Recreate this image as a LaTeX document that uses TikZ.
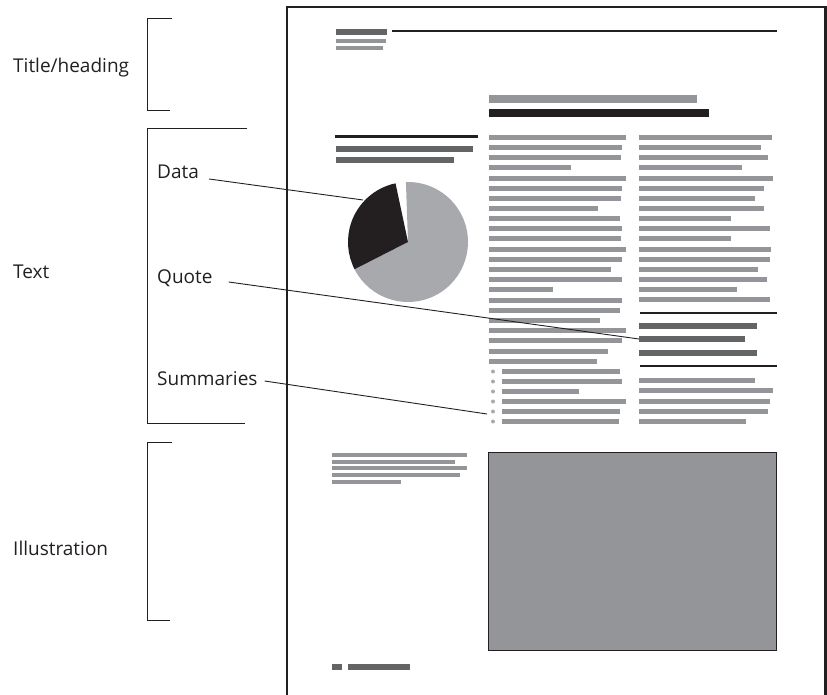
\documentclass[tikz,border=0pt]{standalone}
\usepackage{fontspec}
\setmainfont{Open Sans}
\usetikzlibrary{positioning,calc}
\definecolor{ink}{HTML}{231F20}
\definecolor{coolgray}{HTML}{939598}
\definecolor{slate}{HTML}{636466}
\definecolor{pielight}{HTML}{A7A9AC}

\begin{document}
\begin{tikzpicture}[
  x=1pt, y=-1pt,
  every node/.style={font=\fontsize{19}{22}\selectfont, text=ink, inner sep=0pt},
  side/.style={anchor=base west},
  bracket/.style={draw=ink, line width=1pt},
  leader/.style={draw=ink, line width=0.9pt},
  rule/.style={draw=ink, line width=1.2pt},
  txt/.style={fill=coolgray},
  rowdark/.style={fill=slate},
]
  \useasboundingbox (0,0) rectangle (827,695);

  % page frame
  \draw[ink, line width=2.5pt] (287,695) -- (287,7) -- (825.5,7) -- (825.5,695);

  % side labels and brackets
  \node[side] (title) at (13,73)  {Title/heading};
  \node[side] (text)  at (13,278) {Text};
  \node[side] (illus) at (13,555) {Illustration};
  \node[side] (data)  at (157,179) {Data};
  \node[side] (quote) at (157,283) {Quote};
  \node[side] (summ)  at (157,385) {Summaries};

  \draw[bracket] (172,19)  -- (147,19)  -- (147,111) -- (170,111);
  \draw[bracket] (247,129) -- (147,129) -- (147,423) -- (245,423);
  \draw[bracket] (172,442) -- (147,442) -- (147,620) -- (170,620);

  % heading block
  \fill[rowdark] (336,29) rectangle (387,35);
  \fill[txt] (336,39) rectangle (386,43);
  \fill[txt] (336,46) rectangle (383,50);
  \draw[rule] (392,31) -- (777,31);
  \fill[txt] (489,95) rectangle (697,103);
  \fill[ink] (489,109) rectangle (709,117);

  % chart block
  \fill[ink] (335,135) rectangle (478,138);
  \fill[rowdark] (336,146) rectangle (473,152);
  \fill[rowdark] (336,157) rectangle (454,163);
  \coordinate (pc) at (408,242);
  \fill[pielight] (pc) -- ++(-153:60pt) arc[start angle=-153, end angle=92, radius=60pt] -- cycle;
  \fill[ink] (pc) -- ++(102:60pt) arc[start angle=102, end angle=207, radius=60pt] -- cycle;

  % first column
  \foreach \y/\e in {135/626,145/622,155/621,165/571,176/626,186/622,196/621,206/598,
                     216/620,226/622,236/621,247/626,257/622,267/611,277/622,287/553,
                     298/622,308/620,318/600,328/626,338/622,349/608,359/597}
    \fill[txt] (489,\y) rectangle (\e,\y+5);
  \foreach \y/\e in {369/620,379/622,389/579,399/626,409/620,419/619}{
    \fill[pielight] (493,\y+2.5) circle (2pt);
    \fill[txt] (502,\y) rectangle (\e,\y+5);
  }

  % second column
  \foreach \y/\e in {135/772,145/761,155/768,165/742,176/773,186/764,196/755,206/764,
                     216/731,226/770,236/731,247/771,257/770,267/758,277/767,287/737,297/770}
    \fill[txt] (639,\y) rectangle (\e,\y+5);
  \draw[rule] (640,313) -- (777,313);
  \foreach \y/\e in {323/757,336/745,350/757}
    \fill[rowdark] (639,\y) rectangle (\e,\y+6);
  \draw[rule] (640,366) -- (777,366);
  \foreach \y/\e in {378/755,388/773,399/770,409/768,419/746}
    \fill[txt] (639,\y) rectangle (\e,\y+5);

  % illustration block
  \foreach \y/\e in {453/467,460/455,466/467,473/460,480/401}
    \fill[txt] (332,\y) rectangle (\e,\y+4);
  \draw[draw=ink, fill=coolgray, line width=1pt] (488,452) rectangle (776,650);

  % footer
  \fill[rowdark] (332,664) rectangle (342,670);
  \fill[rowdark] (348,664) rectangle (410,670);

  % leaders
  \coordinate (pieHit)   at (363,200);
  \coordinate (quoteHit) at (639,339);
  \coordinate (summHit)  at (487,414);
  \draw[leader] ([xshift=10pt]data.base east) -- (pieHit);
  \draw[leader] ([xshift=16pt,yshift=1pt]quote.base east) -- (quoteHit);
  \draw[leader] ([xshift=7pt,yshift=4pt]summ.base east) -- (summHit);
\end{tikzpicture}
\end{document}
